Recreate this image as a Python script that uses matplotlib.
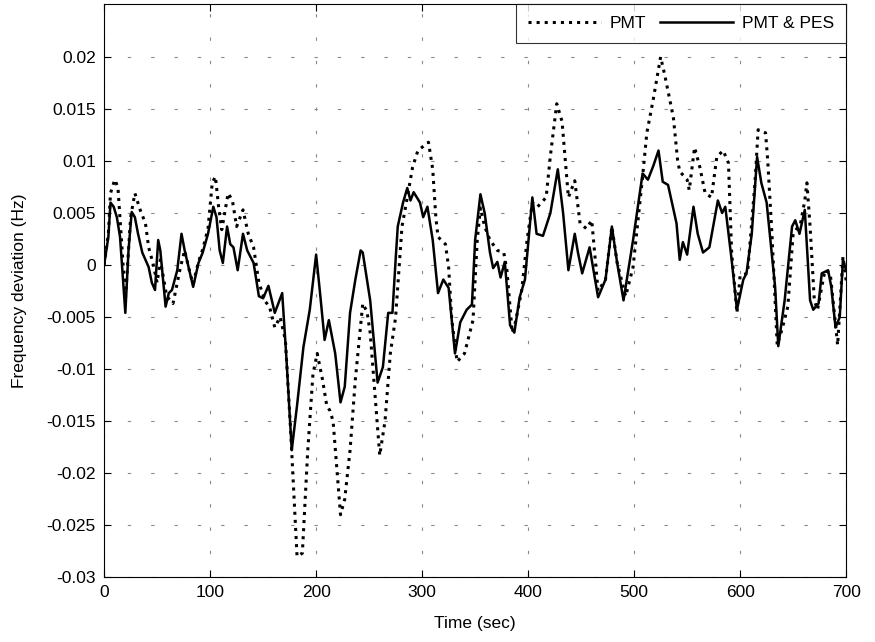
import matplotlib.pyplot as plt
import numpy as np

plt.rcParams['font.family'] = ['Liberation Sans', 'DejaVu Sans']

# PMT & PES (linea continua)
t_pes = [0, 4, 6, 9, 12, 15, 20, 23, 26, 29, 32, 36, 39, 42, 45, 48, 51, 53, 58, 61,
         64, 69, 73, 76, 81, 84, 89, 93, 98, 103, 106, 109, 112, 116, 119, 122, 126, 131, 135, 141,
         146, 150, 155, 161, 168, 172, 177, 182, 188, 194, 200, 204, 208, 212, 218, 223, 227, 232, 237, 242,
         244, 251, 258, 263, 268, 272, 275, 277, 282, 286, 289, 292, 298, 301, 305, 310, 315, 320, 325, 328,
         331, 336, 342, 347, 350, 355, 359, 364, 367, 371, 374, 378, 383, 387, 392, 397, 404, 408, 414, 421,
         428, 433, 438, 444, 447, 451, 458, 466, 473, 479, 484, 490, 499, 508, 513, 518, 523, 527, 532, 540,
         543, 546, 550, 556, 560, 565, 571, 579, 583, 586, 592, 597, 603, 606, 611, 616, 620, 625, 633, 636,
         642, 649, 652, 656, 661, 666, 669, 674, 677, 683, 686, 690, 694, 697, 700]
f_pes = [0, 0.0027, 0.006, 0.0056, 0.0046, 0.0027, -0.0046, 0.0014, 0.0051, 0.0046,
         0.003, 0.0012, 0.0005, -0.0002, -0.0017, -0.0024, 0.0024, 0.0014, -0.004, -0.0027,
         -0.0024, -0.0005, 0.003, 0.0014, -0.0008, -0.0021, 0.0002, 0.0012, 0.003, 0.0056,
         0.0046, 0.0014, 0.0002, 0.0037, 0.002, 0.0017, -0.0005, 0.003, 0.0014, 0.0002,
         -0.003, -0.0032, -0.002, -0.0046, -0.0027, -0.009, -0.0178, -0.0135, -0.0079, -0.0043,
         0.001, -0.003, -0.0072, -0.0053, -0.0085, -0.0132, -0.0117, -0.0046, -0.0014, 0.0014,
         0.0012, -0.0034, -0.0113, -0.0098, -0.0046, -0.0046, 0.0005, 0.0037, 0.006, 0.0074,
         0.0062, 0.007, 0.006, 0.0046, 0.0056, 0.0024, -0.0027, -0.0014, -0.0022, -0.0053,
         -0.0085, -0.0055, -0.0043, -0.0038, 0.0024, 0.0068, 0.005, 0.0012, -0.0003, 0.0003,
         -0.0012, 0.0003, -0.0058, -0.0065, -0.0031, -0.0014, 0.0065, 0.003, 0.0028, 0.005,
         0.0092, 0.005, -0.0005, 0.003, 0.0012, -0.0008, 0.0017, -0.0031, -0.0014, 0.0037,
         0.0002, -0.0034, 0.0024, 0.0088, 0.0082, 0.0095, 0.011, 0.008, 0.0077, 0.004,
         0.0005, 0.0022, 0.001, 0.0056, 0.003, 0.0012, 0.0017, 0.0062, 0.005, 0.0056,
         0.0005, -0.0043, -0.0014, -0.0008, 0.003, 0.0104, 0.0079, 0.006, -0.0021, -0.0078,
         -0.0034, 0.0037, 0.0043, 0.003, 0.0053, -0.0034, -0.0043, -0.0037, -0.0008, -0.0005,
         -0.0021, -0.006, -0.005, 0.0005, -0.0005]

# PMT (linea punteada)
t_pmt = [0, 4, 6, 10, 13, 17, 20, 25, 29, 34, 39, 42, 46, 50, 53, 59, 65, 72, 76, 81,
         84, 89, 93, 98, 102, 105, 108, 111, 117, 121, 125, 131, 136, 141, 146, 152, 156, 161, 166, 171,
         176, 182, 187, 192, 197, 201, 206, 210, 213, 216, 223, 227, 232, 237, 244, 248, 251, 256, 260, 265,
         270, 275, 281, 286, 291, 296, 301, 306, 310, 313, 315, 322, 325, 328, 333, 340, 348, 352, 355, 359,
         364, 371, 377, 380, 385, 388, 394, 399, 404, 409, 417, 421, 427, 432, 435, 438, 444, 449, 455, 460,
         466, 473, 479, 484, 492, 499, 508, 512, 518, 525, 529, 537, 541, 543, 550, 552, 557, 562, 567, 573,
         578, 584, 589, 592, 597, 600, 607, 614, 617, 624, 626, 630, 635, 640, 645, 650, 657, 661, 663, 666,
         670, 673, 680, 685, 692, 697, 700]
f_pmt = [0, 0.003, 0.0069, 0.0082, 0.0075, 0.0014, -0.0034, 0.0046, 0.0069, 0.0053,
         0.004, 0.0017, 0.0002, -0.0017, 0.0005, -0.003, -0.0037, -0.0002, 0.0014, -0.0008,
         -0.0018, 0.0003, 0.0015, 0.0035, 0.0079, 0.0085, 0.0056, 0.0034, 0.0069, 0.0062,
         0.0037, 0.0053, 0.003, 0.0017, -0.0017, -0.0035, -0.004, -0.006, -0.005, -0.0072,
         -0.016, -0.028, -0.0277, -0.018, -0.0105, -0.0085, -0.011, -0.0135, -0.014, -0.015,
         -0.024, -0.0225, -0.0178, -0.011, -0.0037, -0.0045, -0.0065, -0.013, -0.0183, -0.015,
         -0.0085, -0.005, 0.0037, 0.0065, 0.0094, 0.011, 0.0114, 0.0118, 0.0092, 0.0045,
         0.0027, 0.002, -0.0002, -0.0053, -0.0093, -0.0085, -0.0053, 0.0024, 0.0055, 0.0037,
         0.0024, 0.0014, 0.0012, -0.0005, -0.0065, -0.0055, -0.0024, 0.0024, 0.006, 0.0056,
         0.0065, 0.0105, 0.0155, 0.0138, 0.0101, 0.0065, 0.0081, 0.004, 0.0035, 0.0043,
         -0.0025, -0.0014, 0.0037, 0.0002, -0.003, -0.0002, 0.0085, 0.0127, 0.0159, 0.02,
         0.0182, 0.0142, 0.0101, 0.009, 0.0082, 0.0072, 0.0113, 0.0094, 0.0069, 0.0065,
         0.0104, 0.011, 0.0098, 0.0012, -0.0046, -0.001, -0.0008, 0.0079, 0.013, 0.0127,
         0.0101, 0.003, -0.0077, -0.006, -0.004, 0.003, 0.004, 0.0062, 0.0079, 0.0037,
         -0.0034, -0.0043, -0.0005, -0.0008, -0.0077, 0.0008, -0.0015]

ticksY = [0.02, 0.015, 0.01, 0.005, 0, -0.005, -0.01, -0.015, -0.02, -0.025, -0.03]
etiquetasY = ['0.02', '0.015', '0.01', '0.005', '0', '-0.005', '-0.01', '-0.015', '-0.02', '-0.025', '-0.03']
ticksX = [0, 100, 200, 300, 400, 500, 600, 700]

fig = plt.figure(figsize=(8.75, 6.42), dpi=100)
ax = fig.add_axes([0.119, 0.101, 0.848, 0.893])

ax.plot(t_pmt, f_pmt, color='black', linestyle=':', linewidth=2.2, label='PMT')
ax.plot(t_pes, f_pes, color='black', linestyle='-', linewidth=1.8, label='PMT & PES')

ax.set_xlim(0, 700)
ax.set_ylim(-0.03, 0.0251)
ax.set_xticks(ticksX)
ax.set_yticks(ticksY)
ax.set_yticklabels(etiquetasY)
ax.tick_params(direction='in', top=True, right=True, labelsize=12.5, length=5, pad=6)
ax.grid(True, color='#8a8a8a', linestyle=(0, (3, 18)), linewidth=0.8)

ax.set_xlabel('Time (sec)', fontsize=12.5, labelpad=11)
ax.set_ylabel('Frequency deviation (Hz)', fontsize=12.5, labelpad=14)

leg = ax.legend(loc='upper right', ncol=2, fontsize=12.5, frameon=True, fancybox=False,
                borderaxespad=0.0, borderpad=0.7, handlelength=4.2, columnspacing=0.8,
                handletextpad=0.5)
leg.get_frame().set_edgecolor('black')
leg.get_frame().set_linewidth(0.8)

plt.savefig('out.png', dpi=100)
